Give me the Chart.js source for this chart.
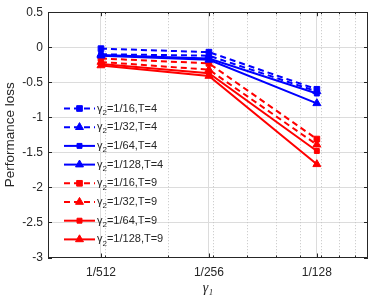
<!DOCTYPE html>
<html><head><meta charset="utf-8">
<script src="https://cdn.jsdelivr.net/npm/chart.js@4"></script>
<style>html,body{margin:0;padding:0;background:#fff}#wrap{position:relative;width:374px;height:298px}</style>
</head><body><div id="wrap"><canvas id="c" width="374" height="298"></canvas></div>
<script>
const gamma1 = [1/512, 1/256, 1/128];
const xTickLabels = ['1/512', '1/256', '1/128'];
const xMinorTicks = [0.002,0.003,0.004,0.005,0.006,0.007,0.008,0.009,0.01];
const yTicks = [0.5, 0, -0.5, -1, -1.5, -2, -2.5, -3];
const gamma2Labels = ['1/16', '1/32', '1/64', '1/128'];
const Tvalues = [4, 9];
// Performance loss, T=4
const g16T4  = [-0.02, -0.07, -0.60];
const g32T4  = [-0.10, -0.12, -0.63];
const g64T4  = [-0.11, -0.16, -0.66];
const g128T4 = [-0.12, -0.18, -0.80];
// Performance loss, T=9
const g16T9  = [-0.16, -0.23, -1.31];
const g32T9  = [-0.21, -0.32, -1.39];
const g64T9  = [-0.24, -0.37, -1.48];
const g128T9 = [-0.26, -0.41, -1.67];

const seriesList = [g16T4, g32T4, g64T4, g128T4, g16T9, g32T9, g64T9, g128T9];
const styles = [
  {c:'#0000ff', dash:[6,4], pt:'rect', r:4},
  {c:'#0000ff', dash:[6,4], pt:'triangle', r:4.6},
  {c:'#0000ff', dash:[], pt:'rect', r:3.5},
  {c:'#0000ff', dash:[], pt:'triangle', r:4.6},
  {c:'#ff0000', dash:[6,4], pt:'rect', r:4},
  {c:'#ff0000', dash:[6,4], pt:'triangle', r:4.6},
  {c:'#ff0000', dash:[], pt:'rect', r:3.5},
  {c:'#ff0000', dash:[], pt:'triangle', r:4.6}
];
const datasets = seriesList.map((s, i) => ({
  label: 'γ2=' + gamma2Labels[i % 4] + ',T=' + Tvalues[Math.floor(i / 4)],
  data: s.map((v, j) => ({x: gamma1[j], y: v})),
  borderColor: styles[i].c, backgroundColor: styles[i].c,
  borderDash: styles[i].dash, borderWidth: 2,
  pointStyle: styles[i].pt, pointRadius: styles[i].r, pointBorderWidth: 1,
  tension: 0, fill: false
}));

const AX = '#262626';
const FONT = '"Liberation Sans", Arial, sans-serif';
const XMIN = 0.00139, XMAX = 0.01085;

function drawMarker(ctx, st, x, y) {
  ctx.save(); ctx.fillStyle = st.c; ctx.strokeStyle = st.c; ctx.setLineDash([]); ctx.lineWidth = 1;
  ctx.beginPath();
  if (st.pt === 'rect') { const s = Math.SQRT1_2 * st.r; ctx.rect(x - s, y - s, 2 * s, 2 * s); }
  else { const r = st.r; ctx.moveTo(x, y - r); ctx.lineTo(x + r * 0.866, y + r * 0.5); ctx.lineTo(x - r * 0.866, y + r * 0.5); ctx.closePath(); }
  ctx.fill(); ctx.stroke(); ctx.restore();
}

const boxPlugin = {
  id: 'box',
  beforeDatasetsDraw(chart) {
    const {ctx, chartArea: a, scales} = chart;
    ctx.save();
    // minor dotted grid (log-scale minor positions)
    ctx.strokeStyle = '#c4c4c4'; ctx.lineWidth = 1; ctx.setLineDash([1, 2]);
    ctx.beginPath();
    xMinorTicks.forEach(v => {
      const px = Math.round(scales.x.getPixelForValue(v)) + 0.5;
      ctx.moveTo(px, a.top); ctx.lineTo(px, a.bottom);
    });
    ctx.stroke();
    ctx.setLineDash([]);
    ctx.strokeStyle = AX; ctx.lineWidth = 1;
    ctx.beginPath();
    scales.y.ticks.forEach(t => {
      const py = Math.round(scales.y.getPixelForValue(t.value)) + 0.5;
      ctx.moveTo(a.left, py); ctx.lineTo(a.left + 4, py);
      ctx.moveTo(a.right, py); ctx.lineTo(a.right - 4, py);
    });
    scales.x.ticks.forEach(t => {
      const px = Math.round(scales.x.getPixelForValue(t.value)) + 0.5;
      ctx.moveTo(px, a.bottom); ctx.lineTo(px, a.bottom - 4);
      ctx.moveTo(px, a.top); ctx.lineTo(px, a.top + 4);
    });
    xMinorTicks.forEach(v => {
      const px = Math.round(scales.x.getPixelForValue(v)) + 0.5;
      ctx.moveTo(px, a.bottom); ctx.lineTo(px, a.bottom - 2);
      ctx.moveTo(px, a.top); ctx.lineTo(px, a.top + 2);
    });
    ctx.stroke();
    ctx.strokeRect(Math.round(a.left) + 0.5, Math.round(a.top) + 0.5, Math.round(a.right - a.left) - 1, Math.round(a.bottom - a.top));
    ctx.restore();
  },
  afterDatasetsDraw(chart) {
    const {ctx, chartArea: a} = chart;
    ctx.save();
    const x0 = a.left + 16, x1 = a.left + 47, xt = a.left + 49;
    chart.data.datasets.forEach((ds, i) => {
      const st = styles[i];
      const y = 108.5 + i * 18.7;
      ctx.strokeStyle = st.c; ctx.lineWidth = 2; ctx.setLineDash(st.dash);
      ctx.beginPath(); ctx.moveTo(x0, y); ctx.lineTo(x1, y); ctx.stroke();
      drawMarker(ctx, st, (x0 + x1) / 2, y);
      ctx.setLineDash([]);
      ctx.fillStyle = AX; ctx.textBaseline = 'middle'; ctx.textAlign = 'left';
      let x = xt;
      ctx.font = '11px ' + FONT;
      ctx.fillText('γ', x, y); x += ctx.measureText('γ').width;
      ctx.font = '8px ' + FONT;
      ctx.fillText('2', x, y + 4); x += ctx.measureText('2').width;
      ctx.font = '11px ' + FONT;
      ctx.fillText(ds.label.slice(2), x, y);
    });
    ctx.restore();
  }
};

new Chart(document.getElementById('c'), {
  type: 'line',
  data: {datasets},
  plugins: [boxPlugin],
  options: {
    responsive: false, animation: false,
    layout: {padding: {top: 10, right: 6, bottom: 0, left: 0}},
    plugins: {legend: {display: false}, tooltip: {enabled: false}},
    scales: {
      x: {
        type: 'logarithmic', position: 'bottom', min: XMIN, max: XMAX,
        afterBuildTicks: s => { s.ticks = gamma1.map(v => ({value: v})); },
        afterFit: s => { s.height = 40.5; },
        ticks: {
          autoSkip: false, maxRotation: 0, padding: 8, color: AX,
          font: {family: FONT, size: 12},
          callback: (v) => { const k = gamma1.findIndex(g => Math.abs(g - v) < 1e-9); return k >= 0 ? xTickLabels[k] : ''; }
        },
        grid: {color: '#dcdcdc', lineWidth: 1, drawTicks: false},
        border: {display: false},
        title: {display: true, text: 'γ₁', color: AX, font: {family: '"Liberation Serif", serif', size: 14, style: 'italic'}, padding: {top: 0, bottom: 1}}
      },
      y: {
        type: 'linear', min: -3, max: 0.5,
        afterBuildTicks: s => { s.ticks = yTicks.map(v => ({value: v})); },
        afterFit: s => { s.width = 48; },
        ticks: {padding: 5, color: AX, font: {family: FONT, size: 12}, callback: v => String(v)},
        grid: {color: '#dcdcdc', lineWidth: 1, drawTicks: false},
        border: {display: false},
        title: {display: true, text: 'Performance loss', color: AX, font: {family: FONT, size: 13.5}, padding: {top: 2, bottom: 0}}
      }
    }
  }
});
</script></body></html>
